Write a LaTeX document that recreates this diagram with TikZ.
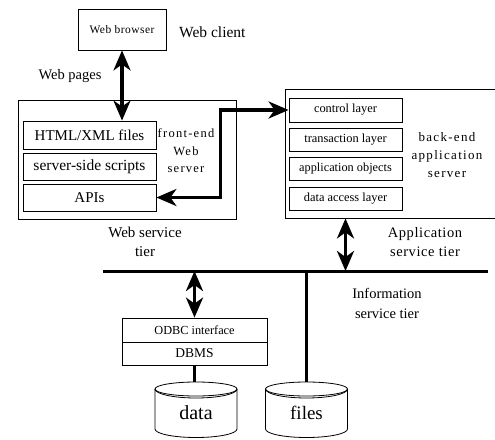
\documentclass[tikz,border=0pt]{standalone}
\usepackage{fontspec}
\setmainfont{Liberation Serif}
\newfontfamily\tracked[LetterSpace=10]{Liberation Serif}
\newfontfamily\lighttracked[LetterSpace=4]{Liberation Serif}
\usetikzlibrary{arrows.meta}

\tikzset{
  layer/.style={draw, line width=0.8pt, inner sep=0pt, minimum width=#1},
  layer/.default=113pt,
  frame/.style={draw, line width=0.8pt, inner sep=0pt},
  lbl/.style={inner sep=0pt, align=center},
  thick link/.style={line width=3.4pt},
  bigarrow/.style={thick link, {Stealth[length=20pt,width=17pt,inset=6pt]}-{Stealth[length=20pt,width=17pt,inset=6pt]}},
  thin line/.style={line width=0.8pt},
  store/.pic={
    % top rim with a second inner arc, body and rounded base
    \draw[thin line] (0,0) ellipse[x radius=41, y radius=7];
    \draw[thin line] (-41,0) arc[start angle=180, end angle=0, x radius=41, y radius=9];
    \draw[thin line] (-41,0) -- (-41,40) arc[start angle=180, end angle=0, x radius=41, y radius=8.5] -- (41,0);
  }
}

\begin{document}
\begin{tikzpicture}[x=1pt, y=-1pt]
\useasboundingbox (0,0) rectangle (495,439);

% ---- Web client ----
\node[frame, minimum width=88pt, minimum height=41pt, font=\lighttracked\fontsize{11.5}{14}\selectfont] (browser) at (122,29.5) {Web browser};
\node[lbl, anchor=west, font=\fontsize{15.5}{18}\selectfont] (client) at (179,32) {Web client};
\node[lbl, font=\fontsize{14.5}{17}\selectfont] (pages) at (70,76) {Web pages};

% ---- Web service tier ----
\node[frame, minimum width=218pt, minimum height=119pt] (websrv) at (127,159.5) {};
\node[layer=133pt, minimum height=28pt, font=\fontsize{15}{17}\selectfont] (html) at (89.5,135) {HTML/XML files};
\node[layer=133pt, minimum height=27pt, font=\fontsize{15.5}{17}\selectfont] (scripts) at (89.5,166.5) {server-side scripts};
\node[layer=133pt, minimum height=27pt, font=\fontsize{15}{17}\selectfont] (apis) at (89.5,197.5) {APIs};
\node[lbl, font=\tracked\fontsize{12.5}{17.5}\selectfont] (frontend) at (186,151) {front-end\\Web\\server};
\node[lbl, font=\fontsize{15}{19}\selectfont] (webtier) at (145,242) {Web service\\tier};

% ---- Application service tier ----
\node[frame, minimum width=230pt, minimum height=129pt] (appsrv) at (400,153.5) {};
\node[layer, minimum height=24pt, font=\fontsize{12.4}{14}\selectfont] (control) at (345.5,110) {control layer};
\node[layer, minimum height=23pt, font=\fontsize{12.4}{14}\selectfont] (trans) at (345.5,139.5) {transaction layer};
\node[layer, minimum height=23pt, font=\fontsize{12.3}{14}\selectfont] (appobj) at (345.5,168.5) {application objects};
\node[layer, minimum height=23pt, font=\fontsize{12.4}{14}\selectfont] (dal) at (345.5,198.5) {data access layer};
\node[lbl, font=\tracked\fontsize{13}{18}\selectfont] (backend) at (447,155) {back-end\\application\\server};
\node[lbl, font=\lighttracked\fontsize{14.5}{19}\selectfont] (apptier) at (425,242) {Application\\service tier};

% ---- Information service tier ----
\coordinate (busL) at (103,271);
\coordinate (busR) at (488,271);
\node[lbl, font=\fontsize{14.5}{20}\selectfont] (infotier) at (387,303) {Information\\service tier};
\node[layer=145pt, minimum height=24pt, font=\fontsize{12.3}{14}\selectfont] (odbc) at (194.5,330) {ODBC interface};
\node[layer=145pt, minimum height=23pt, font=\fontsize{13.5}{15}\selectfont] (dbms) at (194.5,353.5) {DBMS};

\pic at (196,389) {store};
\pic at (306.5,389) {store};
\coordinate (datatop) at (196,382);
\coordinate (filestop) at (306.5,382);
\node[lbl, font=\fontsize{20}{22}\selectfont] (data) at (196,413) {data};
\node[lbl, font=\fontsize{19}{22}\selectfont] (files) at (306.5,413) {files};

% ---- connectors ----
\draw[line width=3pt] (busL) -- (busR);
\draw[bigarrow] (browser.south) -- (browser.south |- html.north);
\draw[bigarrow] (apis.east) -- ++(64,0) |- (control.west);
\draw[bigarrow] (dal.south |- appsrv.south) -- (dal.south |- busL);
\draw[bigarrow] (odbc.north |- busL) -- (odbc.north);
\draw[thick link] (filestop |- busL) -- (filestop);
\draw[thick link] (dbms.south) -- (dbms.south |- datatop);
\end{tikzpicture}
\end{document}
